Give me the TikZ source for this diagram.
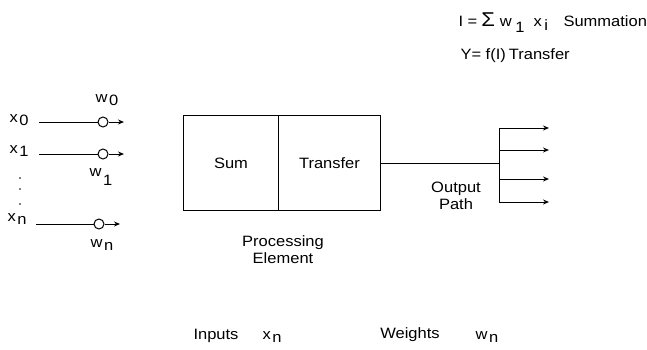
\documentclass[tikz,border=0pt]{standalone}
\usepackage{fontspec}
\setmainfont{Liberation Sans}[FakeStretch=1.1]
\usetikzlibrary{arrows.meta}
% letter followed by a full-size, lowered index
\newcommand\idx[3][0.45ex]{#2\raisebox{-#1}{\kern1.5pt#3}}
\begin{document}
\begin{tikzpicture}[x=1pt,y=-1pt,
  line width=1pt,
  lbl/.style={inner sep=0pt,font=\fontsize{15}{17}\selectfont},
  blk/.style={draw,minimum height=95pt,inner sep=0pt,font=\fontsize{15}{17}\selectfont},
  wnode/.style={draw,circle,minimum size=10pt,inner sep=0pt,fill=white},
  arr/.style={-{Stealth[length=6pt,width=5pt]}}]
\useasboundingbox (0,0) rectangle (647,350);

% inputs with weights
\node[lbl] (x0) at (19,120) {\idx{x}{0}};
\node[lbl] (x1) at (19,151) {\idx{x}{1}};
\node[lbl] (xn) at (17,219) {\idx{x}{n}};
\node[wnode] (c0) at (103,122) {};
\node[wnode] (c1) at (103,154) {};
\node[wnode] (cn) at (99,224) {};
\coordinate (e0) at (124,122);
\coordinate (e1) at (124,154);
\coordinate (en) at (120,224);
\draw (39,122) coordinate (s0) -- (c0);
\draw (39,154) coordinate (s1) -- (c1);
\draw (36,224) coordinate (sn) -- (cn);
\draw[arr] (c0) -- (e0);
\draw[arr] (c1) -- (e1);
\draw[arr] (cn) -- (en);
\node[lbl] (w0) at (107,100) {\idx{w}{0}};
\node[lbl] (w1) at (101,177) {\idx[1.1ex]{w}{1}};
\node[lbl] (wn) at (102,245) {\idx{w}{n}};
\foreach \y [count=\i] in {178,189,204} \fill (20,\y) circle (0.8pt);

% processing element
\node[blk,minimum width=95pt,anchor=north west] (sum) at (183,115) {Sum};
\node[blk,minimum width=102pt,anchor=north west] (tr) at (278,115) {Transfer};
\node[lbl,align=center] (pe) at (283,250) {Processing\\Element};

% output path
\coordinate (j) at (499,163);
\coordinate (jt) at (499,128);
\coordinate (jb) at (499,202);
\draw (tr.east |- j) -- (j);
\draw (jt) -- (jb);
\foreach \y/\n in {128/a,150/b,179/c,202/d} {
  \coordinate (o\n) at (549,\y);
  \draw[arr] (499,\y) -- (o\n);
}
\node[lbl,align=center] (op) at (456,196) {Output\\Path};

% equations
\node[lbl,anchor=base west] (eq1) at (458,27) {I =\kern4pt{\fontsize{20}{20}\selectfont Σ}\kern5pt\idx[0.7ex]{w}{\kern2pt 1}\kern9pt\idx[0.5ex]{x}{\kern1pt i}};
\node[lbl,anchor=base west] (sm) at (563,27) {Summation};
\node[lbl,anchor=base west] (eq2) at (460,60) {Y= f(I)\kern3pt Transfer};

% legend
\node[lbl] (inp) at (216,336) {Inputs};
\node[lbl] (xl) at (272,337) {\idx{x}{n}};
\node[lbl] (wgt) at (410,335) {Weights};
\node[lbl] (wl) at (487,337) {\idx{w}{n}};
\end{tikzpicture}
\end{document}
